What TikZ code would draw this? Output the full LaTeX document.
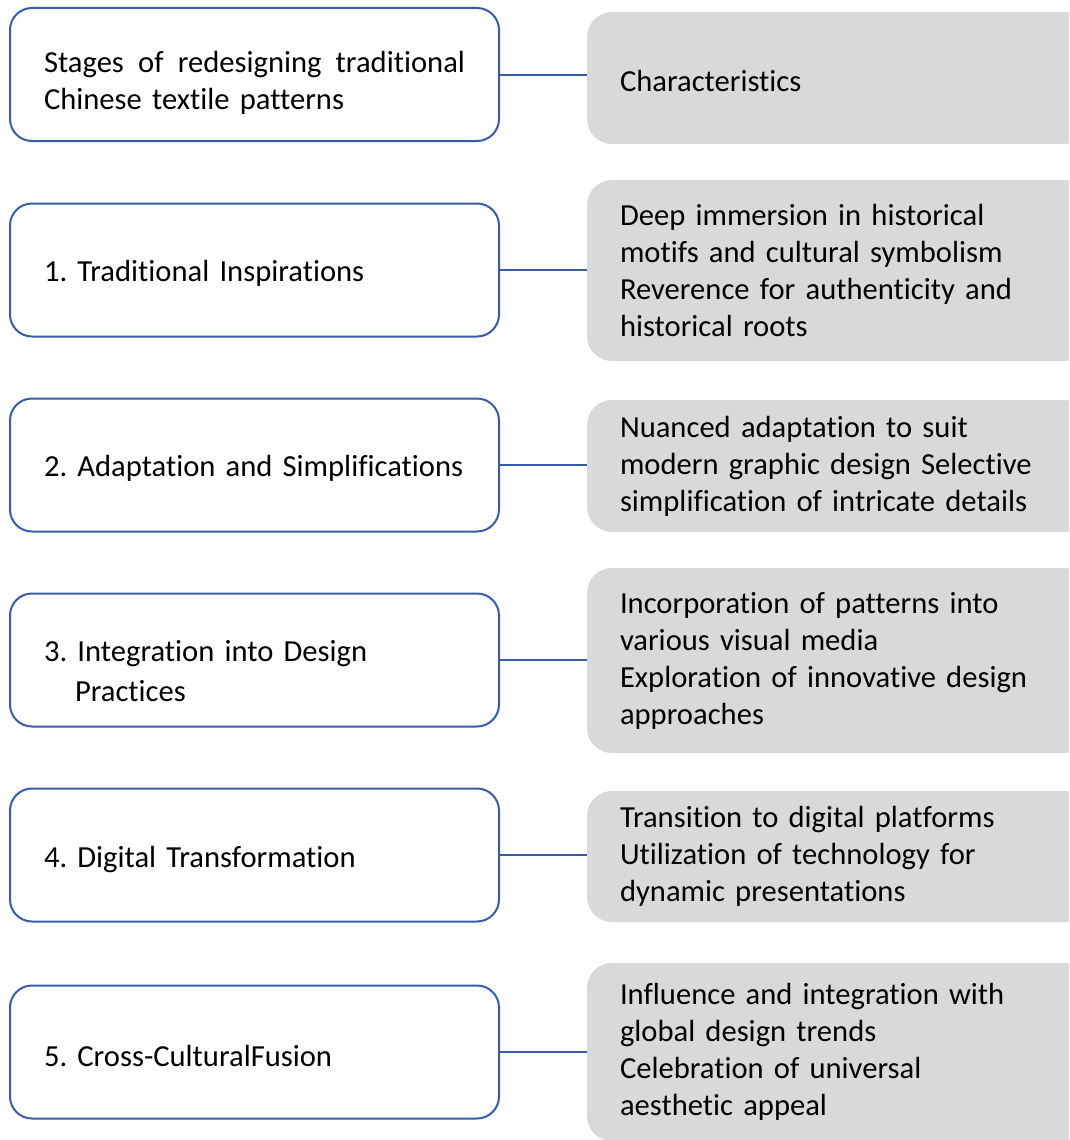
\documentclass[tikz,border=0pt]{standalone}
\usepackage{fontspec}
\setmainfont{Carlito}[Ligatures={NoCommon}]
\hyphenpenalty=10000
\exhyphenpenalty=10000
\definecolor{myblue}{RGB}{56,93,168}
\definecolor{mygray}{RGB}{217,217,217}
\tikzset{
  leftbox/.style={draw=myblue, line width=2pt, fill=white, rounded corners=22pt,
    minimum width=489pt, minimum height=133pt, text width=421pt, inner xsep=34pt,
    align=left, font=\fontsize{30.6}{37}\selectfont\frenchspacing},
  rightbox/.style={fill=mygray, rounded corners=25pt,
    minimum width=503pt, text width=437pt, inner xsep=33pt,
    align=left, font=\fontsize{30.6}{37}\selectfont\frenchspacing},
  conn/.style={draw=myblue, line width=2pt}
}
\begin{document}
\begin{tikzpicture}[x=1pt,y=-1pt]
\useasboundingbox (0,0) rectangle (1069,1140);
\clip (0,0) rectangle (1069,1140);
% left boxes
\node[leftbox] (L1) at (254.5,74.5) {\hbox to \linewidth{\rule{0pt}{37pt}Stages\hfill of\hfill redesigning\hfill traditional}\\Chinese textile patterns};
\node[leftbox] (L2) at (254.5,270) {\rule{0pt}{28pt}\mbox{1. Traditional Inspirations}};
\node[leftbox] (L3) at (254.5,465) {\rule{0pt}{28pt}\mbox{2. Adaptation and Simplifications}};
\node[leftbox] (L4) at (254.5,660) {\rule{0pt}{43pt}\mbox{3. Integration into Design}\\[3pt]\hspace*{31pt}Practices};
\node[leftbox] (L5) at (254.5,855) {\rule{0pt}{30pt}\mbox{4. Digital Transformation}};
\node[leftbox] (L6) at (254.5,1052) {\rule{0pt}{30pt}\mbox{5. Cross-CulturalFusion}};
% right boxes
\node[rightbox, minimum height=132pt] (R1) at (838.5,78) {\rule{0pt}{28pt}Characteristics};
\node[rightbox, minimum height=181pt] (R2) at (838.5,270.5) {Deep immersion in historical\\motifs and cultural symbolism\\Reverence for authenticity and\\historical roots};
\node[rightbox, minimum height=132pt] (R3) at (838.5,466) {Nuanced adaptation to suit\\modern graphic design Selective\\simplification of intricate details};
\node[rightbox, minimum height=185pt] (R4) at (838.5,660.5) {Incorporation of patterns into\\various visual media\\Exploration of innovative design\\approaches};
\node[rightbox, minimum height=131pt] (R5) at (838.5,856.5) {Transition to digital platforms\\Utilization of technology for\\dynamic presentations};
\node[rightbox, minimum height=178pt] (R6) at (838.5,1052) {Influence and integration with\\global design trends\\Celebration of universal\\aesthetic appeal};
% connectors
\foreach \i in {1,...,6} {
  \draw[conn] (L\i.east) -- (L\i.east -| R\i.west);
}
\end{tikzpicture}
\end{document}
